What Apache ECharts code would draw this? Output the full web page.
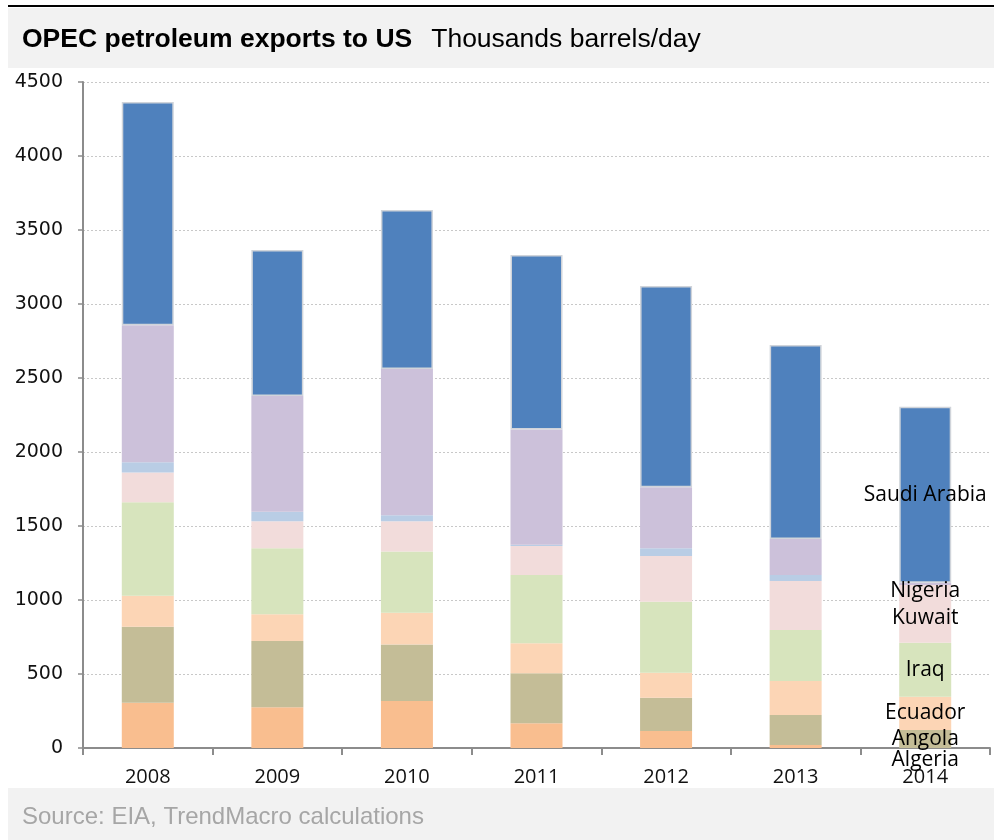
<!DOCTYPE html>
<html>
<head>
<meta charset="utf-8">
<script src="https://cdn.jsdelivr.net/npm/echarts@6/dist/echarts.min.js"></script>
<style>
html,body{margin:0;padding:0;background:#fff;}
#chart{width:994px;height:840px;}
</style>
</head>
<body>
<div id="chart"></div>
<script>
// ---- data (thousand barrels/day) ----
const years = ['2008','2009','2010','2011','2012','2013','2014'];
const algeria = [305, 275, 318, 167, 115, 20, 0];
const angola  = [514, 448, 382, 338, 225, 203, 122];
const ecuador = [209, 180, 214, 202, 169, 230, 225];
const iraq    = [633, 446, 413, 462, 480, 344, 364];
const kuwait  = [201, 183, 205, 196, 308, 331, 390];
const libya   = [68, 65, 40, 8, 52, 41, 0];
const nigeria = [927, 781, 989, 779, 412, 243, 15];
const saudi   = [1508, 987, 1074, 1179, 1361, 1311, 1190];
const yTicks = [0, 500, 1000, 1500, 2000, 2500, 3000, 3500, 4000, 4500];

const seriesDefs = [
  {name:'Algeria', data:algeria, color:'#F9BE8F', label:true, dy:12},
  {name:'Angola', data:angola, color:'#C4BD97', label:true, dy:0},
  {name:'Ecuador', data:ecuador, color:'#FCD5B5', label:true, dy:0},
  {name:'Iraq', data:iraq, color:'#D7E4BD', label:true, dy:0},
  {name:'Kuwait', data:kuwait, color:'#F2DCDB', label:true, dy:4},
  {name:'Libya', data:libya, color:'#B9CDE5', label:false, dy:0},
  {name:'Nigeria', data:nigeria, color:'#CCC1DA', label:true, dy:7},
  {name:'Saudi Arabia', data:saudi, color:'#4F81BD', label:true, dy:0, border:true}
];

const chart = echarts.init(document.getElementById('chart'), null, {renderer:'canvas'});
const lastIdx = years.length - 1;
const series = seriesDefs.map(s => ({
  name: s.name,
  type: 'bar',
  stack: 'total',
  barWidth: 52,
  itemStyle: {color: s.color, borderColor: s.border ? '#D0D4DA' : s.color, borderWidth: s.border ? 1.5 : 0},
  data: s.data.map((v, i) => {
    if (i === lastIdx && s.label) {
      return {value: v, label: {show: true, position: 'inside', offset: [0, s.dy],
        formatter: s.name, color: '#000', fontFamily: 'Open Sans', fontSize: 21}};
    }
    return v;
  })
}));

chart.setOption({
  animation: false,
  graphic: [
    {type:'rect', shape:{x:8, y:8, width:986, height:60}, style:{fill:'#F2F2F2'}, silent:true},
    {type:'rect', shape:{x:8, y:5, width:986, height:2}, style:{fill:'#000'}, silent:true},
    {type:'rect', shape:{x:8, y:788, width:986, height:52}, style:{fill:'#F2F2F2'}, silent:true},
    {type:'text', left:22, top:805, style:{text:'Source: EIA, TrendMacro calculations', fill:'#A6A6A6',
      font:'24px "Liberation Sans"'}}
  ],
  title: {
    left: 22, top: 26, padding: 0,
    text: '{b|OPEC petroleum exports to US}{r|Thousands barrels/day}',
    textStyle: {
      rich: {
        b: {fontFamily:'Liberation Sans', fontWeight:'bold', fontSize:26.5, color:'#000'},
        r: {fontFamily:'Liberation Sans', fontWeight:'normal', fontSize:26.5, color:'#000', padding:[0,0,0,19]}
      }
    }
  },
  grid: {left:83, right:4, top:82, bottom:92},
  xAxis: {
    type:'category', data: years,
    axisLine: {lineStyle:{color:'#8C8C8C', width:2}},
    axisTick: {show:true, length:7, lineStyle:{color:'#8C8C8C', width:2}},
    axisLabel: {margin:19, color:'#111', fontFamily:'Open Sans', fontSize:20}
  },
  yAxis: {
    type:'value', min:0, max:4500, interval:500,
    axisLine: {show:true, lineStyle:{color:'#8C8C8C', width:2}},
    axisTick: {show:true, length:5, lineStyle:{color:'#8C8C8C', width:1.5}},
    axisLabel: {margin:20, color:'#111', fontFamily:'DejaVu Sans', fontSize:19,
      formatter: v => yTicks.indexOf(v) >= 0 ? String(v) : ''},
    splitLine: {show:true, lineStyle:{color:'#C8C8C8', type:[2,2], width:1}}
  },
  series: series
});
</script>
</body>
</html>
